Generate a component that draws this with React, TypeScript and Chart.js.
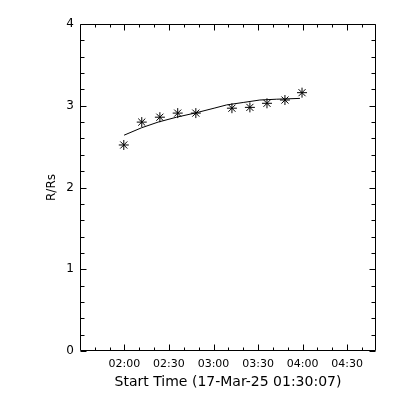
import React, { useEffect, useRef } from "react";
import { Chart, registerables } from "chart.js";

Chart.register(...registerables);

// Times in minutes since 00:00 on 17-Mar-25
const starTimes = [119.6, 131.7, 143.9, 155.9, 168.1, 192.4, 204.5, 216.0, 228.1, 239.6];
const starR = [2.52, 2.8, 2.86, 2.91, 2.91, 2.97, 2.98, 3.03, 3.07, 3.16];

const fitTimes = [119.8, 131.5, 142.7, 155.1, 167.4, 180.4, 188.8, 200.0, 211.2, 222.5, 238.2];
const fitR = [2.64, 2.73, 2.8, 2.86, 2.91, 2.97, 3.01, 3.04, 3.07, 3.08, 3.09];

const xMajorTicks = [120, 150, 180, 210, 240, 270];
const xMinorTicks = [100, 110, 130, 140, 160, 170, 190, 200, 220, 230, 250, 260, 280];
const yMajorTicks = [0, 1, 2, 3, 4];
const yMinorStep = 0.2;

const xMin = 90.117; // 01:30:07
const xMax = 289.4;
const yMin = 0;
const yMax = 4;

const xTitle = "Start Time (17-Mar-25 01:30:07)";
const yTitle = "R/Rs";

const fmtTime = (v: number) => {
  const h = Math.floor(v / 60);
  const m = Math.round(v - h * 60);
  return String(h).padStart(2, "0") + ":" + String(m).padStart(2, "0");
};

const frameTicks = {
  id: "frameTicks",
  afterDatasetsDraw(chart: any) {
    const { ctx, chartArea } = chart;
    const { left, right, top, bottom } = chartArea;
    const xs = chart.scales.x;
    const ys = chart.scales.y;
    ctx.save();
    ctx.strokeStyle = "#000";
    ctx.lineWidth = 1;
    ctx.beginPath();
    const L = Math.round(left) + 0.5;
    const R = Math.round(right) - 0.5;
    const T = Math.round(top) + 0.5;
    const B = Math.round(bottom) - 0.5;
    ctx.rect(L, T, R - L, B - T);
    const major = 6;
    const minor = 3;
    const vx = (v: number, len: number) => {
      const px = Math.round(xs.getPixelForValue(v)) + 0.5;
      ctx.moveTo(px, B);
      ctx.lineTo(px, B - len);
      ctx.moveTo(px, T);
      ctx.lineTo(px, T + len);
    };
    const hy = (v: number, len: number) => {
      const py = Math.round(ys.getPixelForValue(v)) + 0.5;
      ctx.moveTo(L, py);
      ctx.lineTo(L + len, py);
      ctx.moveTo(R, py);
      ctx.lineTo(R - len, py);
    };
    xMajorTicks.forEach((v) => vx(v, major));
    xMinorTicks.forEach((v) => vx(v, minor));
    for (let v = yMin; v <= yMax + 1e-9; v += yMinorStep) {
      const isMajor = Math.abs(v - Math.round(v)) < 1e-6;
      hy(v, isMajor ? major : minor + 1);
    }
    ctx.stroke();
    ctx.restore();
  },
};

export default function App() {
  const ref = useRef<HTMLCanvasElement>(null);
  useEffect(() => {
    if (!ref.current) return;
    Chart.defaults.color = "#000";
    Chart.defaults.font.family = "'DejaVu Sans', sans-serif";
    const chart = new Chart(ref.current, {
      type: "scatter",
      data: {
        datasets: [
          {
            label: "fit",
            data: fitTimes.map((t, i) => ({ x: t, y: fitR[i] })),
            showLine: true,
            borderColor: "#000",
            borderWidth: 1,
            pointRadius: 0,
            tension: 0,
          },
          {
            label: "points",
            data: starTimes.map((t, i) => ({ x: t, y: starR[i] })),
            showLine: false,
            pointStyle: "star",
            pointRadius: 5,
            borderColor: "#000",
            backgroundColor: "#000",
            pointBorderWidth: 1,
          },
        ],
      },
      options: {
        animation: false,
        responsive: false,
        devicePixelRatio: 1,
        layout: { padding: { top: 24, right: 24, left: 0, bottom: 0 } },
        plugins: { legend: { display: false }, tooltip: { enabled: false } },
        scales: {
          x: {
            type: "linear",
            min: xMin,
            max: xMax,
            grid: { display: false, drawTicks: false },
            border: { display: false },
            afterBuildTicks: (s: any) => {
              s.ticks = xMajorTicks.map((v) => ({ value: v }));
            },
            afterFit: (s: any) => {
              s.height = 49;
            },
            ticks: {
              autoSkip: false,
              maxRotation: 0,
              padding: 7,
              font: { size: 11 },
              callback: (v: any) => fmtTime(Number(v)),
            },
            title: {
              display: true,
              text: xTitle,
              font: { size: 14 },
              padding: { top: 0, bottom: 9.6 },
            },
          },
          y: {
            type: "linear",
            min: yMin,
            max: yMax,
            grid: { display: false, drawTicks: false },
            border: { display: false },
            afterBuildTicks: (s: any) => {
              s.ticks = yMajorTicks.map((v) => ({ value: v }));
            },
            afterFit: (s: any) => {
              s.width = 80;
            },
            ticks: {
              padding: 6,
              font: { size: 12 },
              callback: (v: any) => String(v),
            },
            title: {
              display: true,
              text: yTitle,
              font: { size: 12 },
              padding: { top: 45, bottom: 0 },
            },
          },
        },
      },
      plugins: [frameTicks],
    });
    return () => chart.destroy();
  }, []);
  return (
    <div style={{ position: "absolute", left: 0, top: 0, width: 400, height: 400, background: "#fff" }}>
      <canvas ref={ref} width={400} height={400} style={{ width: 400, height: 400 }} />
    </div>
  );
}
